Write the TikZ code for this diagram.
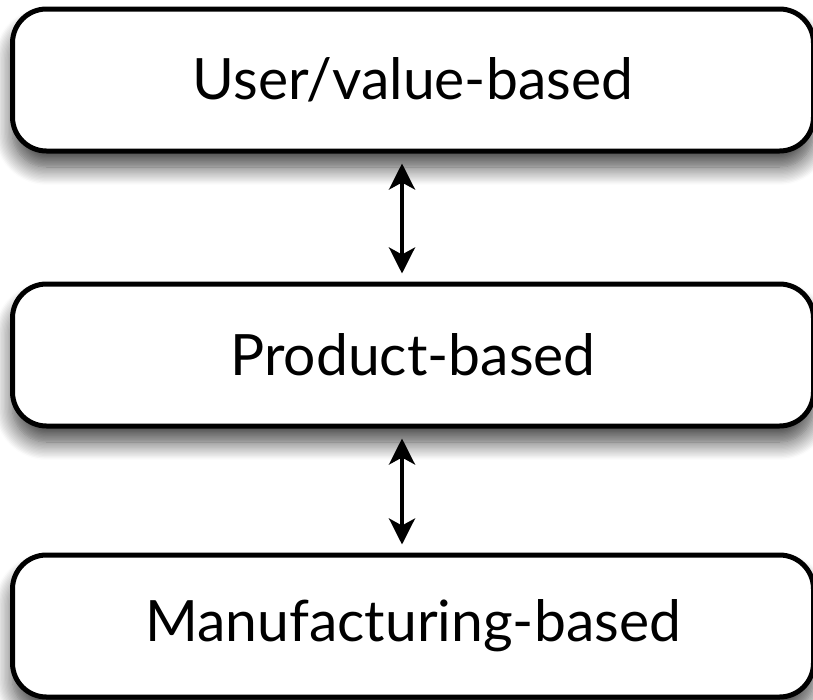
\documentclass[tikz,border=0pt]{standalone}
\usepackage{fontspec}
\setmainfont{Lato}
\usetikzlibrary{arrows.meta,shadows.blur}

\begin{document}
\begin{tikzpicture}[x=1pt,y=-1pt,
    level/.style={draw, line width=5pt, rounded corners=34pt, fill=white,
        minimum width=801pt, minimum height=142pt,
        blur shadow={shadow xshift=0pt, shadow yshift=-16pt, shadow opacity=75, shadow blur steps=14, shadow blur radius=18pt},
        font=\fontsize{57}{60}\selectfont},
    link/.style={line width=4pt, {Stealth[length=26pt,width=26pt,inset=7pt]}-{Stealth[length=26pt,width=26pt,inset=7pt]},
        shorten <=10pt, shorten >=8pt}]
            \useasboundingbox (0,0) rectangle (813,699);
            \node[level] (user) at (413,80) {User/value-based};
            \node[level] (product) at (413,355) {Product-based};
            \node[level] (manufacturing) at (413,626) {Manufacturing-based};
            \draw[link] (user.south -| 402,0) -- (product.north -| 402,0);
            \draw[link] (product.south -| 402,0) -- (manufacturing.north -| 402,0);
        \end{tikzpicture}
\end{document}
